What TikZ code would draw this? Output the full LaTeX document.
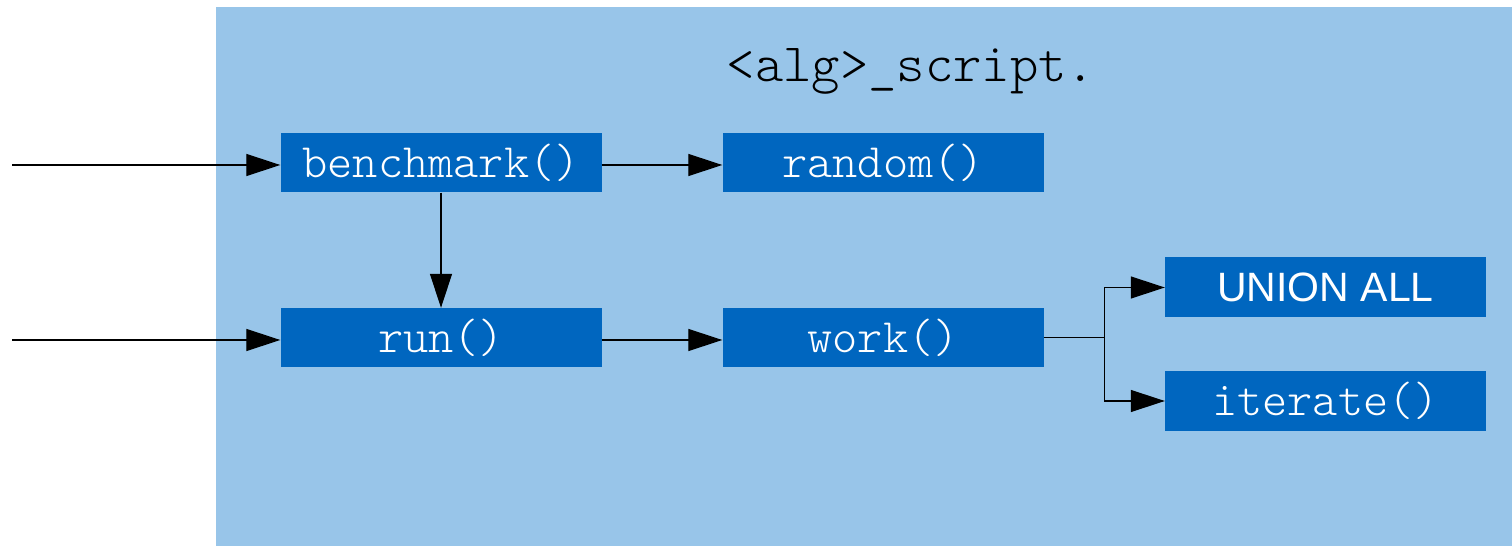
\documentclass[tikz,border=0pt]{standalone}
\usepackage{fontspec}
\newfontfamily\sansf{Liberation Sans}
\newfontfamily\monolt{Latin Modern Mono Light}
\usetikzlibrary{arrows.meta}
\definecolor{bgblue}{HTML}{98C5E9}
\definecolor{boxblue}{HTML}{0066BF}
\tikzset{
  fbox/.style={fill=boxblue, minimum width=321pt, minimum height=59pt, inner sep=0pt, text=white,
    font=\monolt\fontsize{48}{48}\selectfont},
  arr/.style={draw=black, line width=1.2pt, -{Triangle[length=34pt,width=22pt]}},
  ln/.style={draw=black, line width=1.2pt}
}
\begin{document}
\begin{tikzpicture}[x=1pt,y=1pt]
\useasboundingbox (0,0) rectangle (1512,546);
\fill[white] (0,0) rectangle (1512,546);
\fill[bgblue] (216,0) rectangle (1512,539);
\node[font=\monolt\fontsize{54}{54}\selectfont, text=black] (title) at (911,475) {<alg>\_script.};
\node[fbox] (bench) at (441,383) {\raisebox{-3pt}{benchmark()}};
\node[fbox] (random) at (883,383) {\raisebox{-3pt}{random()}};
\node[fbox] (run) at (441,208.5) {\raisebox{-3pt}{run()}};
\node[fbox] (work) at (883,208.5) {\raisebox{-3pt}{work()}};
\node[fbox, minimum height=60pt, font=\sansf\fontsize{41}{41}\selectfont] (union) at (1325.5,258.5) {\raisebox{-2pt}{UNION ALL}};
\node[fbox, minimum height=60pt] (iter) at (1325.5,145) {\raisebox{-3pt}{iterate()}};
\coordinate (in1) at (12,381);
\coordinate (in2) at (12,206);
\draw[arr] (in1) -- (in1 -| bench.west);
\draw[arr] (in2) -- (in2 -| run.west);
\draw[arr] (bench.east |- in1) -- (in1 -| random.west);
\draw[arr] (bench.south) -- (run.north);
\draw[arr] (run.east |- in2) -- (in2 -| work.west);
\draw[ln] (work.east) -- ++(61,0) coordinate (fork);
\draw[arr] (fork) |- (union.west);
\draw[arr] (fork) |- (iter.west);
\end{tikzpicture}
\end{document}
